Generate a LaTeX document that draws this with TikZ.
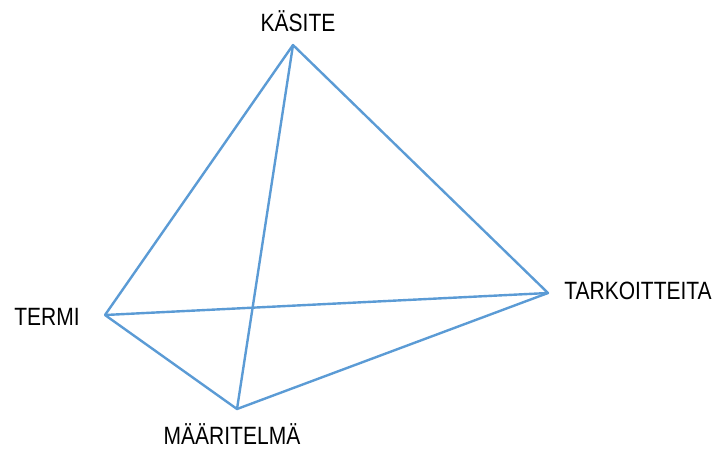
\documentclass[tikz,border=0pt]{standalone}
\usepackage{fontspec}
\setmainfont[FakeStretch=0.84]{Liberation Sans}
\usetikzlibrary{positioning}
\definecolor{edgeblue}{RGB}{91,155,213}

\begin{document}
\begin{tikzpicture}[x=1pt, y=-1pt,
    edge/.style={edgeblue, line width=2.4pt, line join=round},
    lbl/.style={font=\fontsize{25}{28}\selectfont, anchor=base, inner sep=0pt}]
  \useasboundingbox (0,0) rectangle (720,448);
  % corners of the tetrahedron
  \coordinate (kasite) at (293,45);
  \coordinate (termi) at (105,315);
  \coordinate (maar) at (237,409);
  \coordinate (tark) at (548,293);
  % edges
  \draw[edge] (kasite) -- (termi) -- (maar) -- (tark) -- cycle;
  \draw[edge] (kasite) -- (maar);
  \draw[edge] (termi) -- (tark);
  % labels
  \node[lbl] (kasitelbl) at (298,31) {KÄSITE};
  \node[lbl] (termilbl) at (47,325) {TERMI};
  \node[lbl] (maarlbl) at (232,444) {MÄÄRITELMÄ};
  \node[lbl] (tarklbl) at (638,299) {TARKOITTEITA};
\end{tikzpicture}
\end{document}
